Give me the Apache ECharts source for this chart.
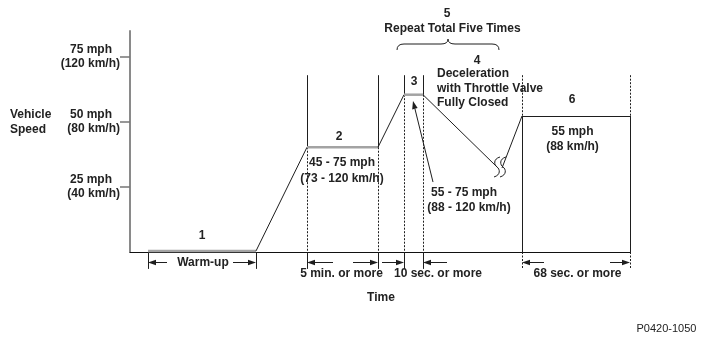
<!DOCTYPE html>
<html>
<head>
<meta charset="utf-8">
<script src="https://cdn.jsdelivr.net/npm/echarts@6/dist/echarts.min.js"></script>
<style>html,body{margin:0;padding:0;background:#fff}#c{width:704px;height:343px}</style>
</head>
<body>
<div id="c"></div>
<script>
// ---------- data (time in arbitrary units 0..100, speed in mph) ----------
const speedTicks = [25, 50, 75];
const speedTickMph = ['25 mph', '50 mph', '75 mph'];
const speedTickKmh = ['(40 km/h)', '(80 km/h)', '(120 km/h)'];

// speed profile: warm-up, ramp, mode 2, ramp, mode 3, deceleration (broken)
const profileTime  = [3.6, 25.2, 35.4, 49.6, 54.8, 58.6, 73.4];
const profileSpeed = [0.4, 0.4, 40.3, 40.3, 60.5, 60.5, 32.7];
// resumed profile after the break: ramp and mode 6
const resumeTime  = [74.4, 78.4, 100];
const resumeSpeed = [32.3, 52.3, 52.3];

// phase boundaries
const cycleBoundTimes = [35.4, 49.6, 54.8, 58.6];
const cycleBoundSplit = [40.3, 40.3, 60.5, 60.5];
const finalBoundTimes = [78.4, 100];
const finalBoundSplit = [52.3, 52.3];
const warmupTickTimes = [3.6, 25.2];
const boundTop = 68;
const boundBottom = -6.5;

// duration arrows below the axis
const spanArrowTail = [7.4, 20.6, 40.6, 44.6, 50.4, 63.4, 82.8, 96.0];
const spanArrowTip  = [3.6, 25.2, 35.4, 49.6, 54.8, 58.6, 78.4, 100];
const spanArrowSpeed = -4.2;

// pointer arrow to mode 3
const pointerTail = [60.6, 26.9];
const pointerTip  = [56.6, 58.1];

// brace over the repeated cycle
const braceTimes  = [53.4, 63.6, 73.8];   // left, middle, right
const braceSpeeds = [77.7, 80.0, 81.9];   // ends, shoulder, peak

// break marks on the deceleration line
const squiggleTimes  = [73.4, 74.6];
const squiggleSpeeds = [32.7, 32.7];

// annotation texts and their anchors (time, speed)
const labelTexts = [
  '1', '2', '45 - 75 mph\n(73 - 120 km/h)', '3', '4',
  'Deceleration\nwith Throttle Valve\nFully Closed',
  '5', 'Repeat Total Five Times', '6', '55 mph\n(88 km/h)',
  '55 - 75 mph', '(88 - 120 km/h)', 'Warm-up', '5 min. or more',
  '10 sec. or more', '68 sec. or more', 'Time', 'Vehicle\nSpeed', 'P0420-1050'
];
const labelTimes  = [14.4, 41.8, 42.4, 56.8, 69.4, 61.4, 63.4, 64.5, 88.4, 88.5, 66.8, 67.8, 14.6, 42.3, 61.6, 89.5, 50.2, -24, 107.3];
const labelSpeeds = [6.2, 44.2, 31.2, 65.4, 73.5, 62.9, 91.5, 85.8, 58.5, 43.3, 22.7, 16.9, -4.2, -8.3, -8.5, -8.3, -17.7, 50, -29.6];

// ---------- rendering ----------
const FONT = '"Liberation Sans", Arial, Helvetica, sans-serif';
const INK = '#1e1e1e';
const HOLD = '#a3a3a3';
const cr = v => Math.floor(v) + 0.5;

const profileSegs = [];
for (let i = 0; i < profileTime.length - 1; i++) {
  const flat = profileSpeed[i] === profileSpeed[i + 1];
  profileSegs.push([profileTime[i], profileSpeed[i], profileTime[i + 1], profileSpeed[i + 1], flat ? 1 : 0]);
}
for (let i = 0; i < resumeTime.length - 1; i++) {
  profileSegs.push([resumeTime[i], resumeSpeed[i], resumeTime[i + 1], resumeSpeed[i + 1], 0]);
}

const boundSegs = [];
cycleBoundTimes.forEach((t, i) => {
  boundSegs.push([t, boundTop, t, cycleBoundSplit[i], 0]);
  boundSegs.push([t, cycleBoundSplit[i], t, 0, 1]);
  boundSegs.push([t, 0, t, boundBottom, 0]);
});
finalBoundTimes.forEach((t, i) => {
  boundSegs.push([t, boundTop, t, finalBoundSplit[i], 1]);
  boundSegs.push([t, finalBoundSplit[i], t, 0, 0]);
  boundSegs.push([t, 0, t, boundBottom, 1]);
});
warmupTickTimes.forEach(t => boundSegs.push([t, -0.3, t, boundBottom, 0]));

const arrowData = spanArrowTail.map((t, i) => [t, spanArrowSpeed, spanArrowTip[i], spanArrowSpeed]);
arrowData.push([pointerTail[0], pointerTail[1], pointerTip[0], pointerTip[1]]);

function arrowEl(a, b) {
  const dx = b[0] - a[0], dy = b[1] - a[1];
  const len = Math.sqrt(dx * dx + dy * dy);
  const ux = dx / len, uy = dy / len;
  const hl = 8, hw = 2.8;
  let ax = a[0], ay = a[1], bx = b[0], by = b[1];
  if (Math.abs(dy) < 0.01) { ay = by = cr(ay); }
  const baseX = bx - ux * hl, baseY = by - uy * hl;
  return {
    type: 'group',
    children: [
      { type: 'line', shape: { x1: ax, y1: ay, x2: baseX, y2: baseY }, style: { stroke: INK, lineWidth: 1 } },
      { type: 'polygon', shape: { points: [[bx, by], [baseX - uy * hw, baseY + ux * hw], [baseX + uy * hw, baseY - ux * hw]] }, style: { fill: INK } }
    ]
  };
}

const chart = echarts.init(document.getElementById('c'), null, { renderer: 'canvas', width: 704, height: 343 });

const option = {
  animation: false,
  backgroundColor: '#ffffff',
  grid: { left: 130, right: 74, top: 31, bottom: 91, containLabel: false },
  xAxis: {
    type: 'value', min: 0, max: 100,
    axisLine: { show: true, lineStyle: { color: '#111', width: 1 } },
    axisTick: { show: false }, axisLabel: { show: false }, splitLine: { show: false }
  },
  yAxis: {
    type: 'value', min: 0, max: 85, interval: 25,
    axisLine: { show: true, lineStyle: { color: '#8a8a8a', width: 2 } },
    axisTick: { show: true, customValues: speedTicks, length: 10, lineStyle: { color: '#777', width: 1.5 } },
    axisLabel: {
      show: true, customValues: speedTicks, margin: 10, align: 'right',
      formatter: v => {
        const i = speedTicks.indexOf(v);
        return i < 0 ? '' : '{a|' + speedTickMph[i] + '}\n{b|' + speedTickKmh[i] + '}';
      },
      rich: {
        a: { fontFamily: FONT, fontWeight: 'bold', fontSize: 12, color: '#222', lineHeight: 14, padding: [0, 8, 0, 0], align: 'right' },
        b: { fontFamily: FONT, fontWeight: 'bold', fontSize: 12, color: '#222', lineHeight: 14, align: 'right' }
      }
    },
    splitLine: { show: false }
  },
  series: [
    {
      type: 'custom', coordinateSystem: 'cartesian2d', silent: true, clip: false, z: 3,
      data: boundSegs,
      renderItem: (params, api) => {
        const a = api.coord([api.value(0), api.value(1)]);
        const b = api.coord([api.value(2), api.value(3)]);
        const x = cr(a[0]);
        return {
          type: 'line', shape: { x1: x, y1: a[1], x2: x, y2: b[1] },
          style: { stroke: INK, lineWidth: 1, lineDash: api.value(4) === 1 ? [2, 1.5] : null }
        };
      }
    },
    {
      type: 'custom', coordinateSystem: 'cartesian2d', silent: true, clip: false, z: 4,
      data: profileSegs,
      renderItem: (params, api) => {
        const a = api.coord([api.value(0), api.value(1)]);
        const b = api.coord([api.value(2), api.value(3)]);
        const gray = api.value(4) === 1;
        let y1 = a[1], y2 = b[1];
        if (!gray && Math.abs(y1 - y2) < 0.01) { y1 = y2 = cr(y1); }
        return {
          type: 'line', shape: { x1: a[0], y1: y1, x2: b[0], y2: y2 },
          style: { stroke: gray ? HOLD : INK, lineWidth: gray ? 2.5 : 1 }
        };
      }
    },
    {
      type: 'custom', coordinateSystem: 'cartesian2d', silent: true, clip: false, z: 5,
      data: arrowData,
      renderItem: (params, api) => arrowEl(
        api.coord([api.value(0), api.value(1)]),
        api.coord([api.value(2), api.value(3)])
      )
    },
    {
      type: 'custom', coordinateSystem: 'cartesian2d', silent: true, clip: false, z: 5,
      data: [[braceTimes[0], braceSpeeds[0], braceTimes[1], braceSpeeds[1], braceTimes[2], braceSpeeds[2]]],
      renderItem: (params, api) => {
        const l = api.coord([api.value(0), api.value(1)]);
        const m = api.coord([api.value(2), api.value(3)]);
        const r = api.coord([api.value(4), api.value(1)]);
        const pk = api.coord([api.value(2), api.value(5)]);
        const ys = m[1], k = 7;
        const d = 'M' + l[0] + ' ' + l[1] +
          ' Q' + l[0] + ' ' + ys + ' ' + (l[0] + k) + ' ' + ys +
          ' L' + (m[0] - k) + ' ' + ys +
          ' Q' + m[0] + ' ' + ys + ' ' + m[0] + ' ' + pk[1] +
          ' Q' + m[0] + ' ' + ys + ' ' + (m[0] + k) + ' ' + ys +
          ' L' + (r[0] - k) + ' ' + ys +
          ' Q' + r[0] + ' ' + ys + ' ' + r[0] + ' ' + r[1];
        return { type: 'path', shape: { pathData: d }, style: { stroke: INK, fill: 'none', lineWidth: 1 } };
      }
    },
    {
      type: 'custom', coordinateSystem: 'cartesian2d', silent: true, clip: false, z: 6,
      data: squiggleTimes.map((t, i) => [t, squiggleSpeeds[i]]),
      renderItem: (params, api) => {
        const c = api.coord([api.value(0), api.value(1)]);
        const x = c[0], y = c[1];
        const d = 'M' + (x + 3) + ' ' + (y - 10) +
          ' C' + (x - 4) + ' ' + (y - 8) + ' ' + (x - 3) + ' ' + (y - 2) + ' ' + x + ' ' + y +
          ' C' + (x + 3) + ' ' + (y + 2) + ' ' + (x + 4) + ' ' + (y + 8) + ' ' + (x - 3) + ' ' + (y + 10);
        return { type: 'path', shape: { pathData: d }, style: { stroke: INK, fill: 'none', lineWidth: 1 } };
      }
    },
    {
      type: 'custom', coordinateSystem: 'cartesian2d', silent: true, clip: false, z: 7,
      data: labelTexts.map((s, i) => [labelTimes[i], labelSpeeds[i], i]),
      renderItem: (params, api) => {
        const i = api.value(2);
        const p = api.coord([api.value(0), api.value(1)]);
        const txt = labelTexts[i];
        const left = txt.indexOf('Deceleration') === 0 || txt.indexOf('Vehicle') === 0;
        const foot = txt === 'P0420-1050';
        const lh = txt.indexOf('45 - 75') === 0 ? 16 : 14.5;
        return {
          type: 'text', x: p[0], y: p[1],
          style: {
            text: txt, align: left ? 'left' : 'center', verticalAlign: 'middle',
            fontFamily: FONT, fontWeight: foot ? 'normal' : 'bold', fontSize: foot ? 11 : 12,
            lineHeight: lh, fill: '#222'
          }
        };
      }
    }
  ]
};
chart.setOption(option);
</script>
</body>
</html>
